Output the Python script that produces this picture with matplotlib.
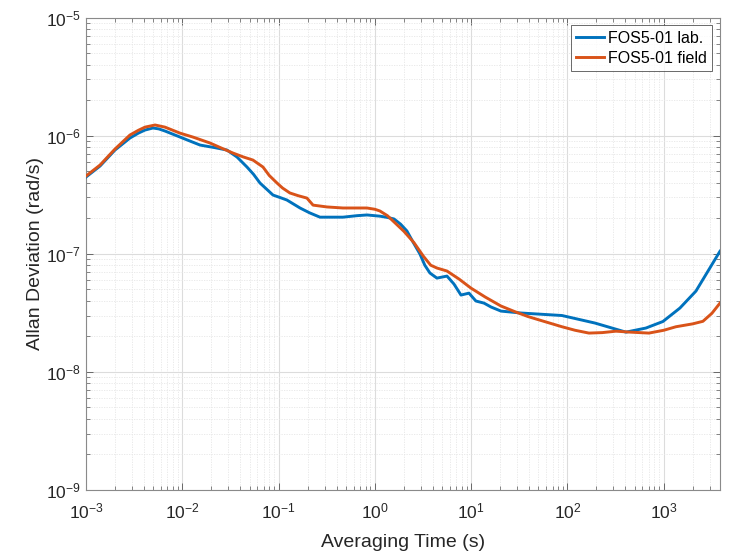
import matplotlib
matplotlib.use("Agg")
import matplotlib.pyplot as plt
from matplotlib.ticker import LogFormatterSciNotation

plt.rcParams['font.family'] = ['Liberation Sans', 'DejaVu Sans']
plt.rcParams['mathtext.fontset'] = 'custom'
plt.rcParams['mathtext.rm'] = 'Liberation Sans'
plt.rcParams['mathtext.it'] = 'Liberation Sans:italic'
plt.rcParams['mathtext.bf'] = 'Liberation Sans:bold'

# ---- data ----
tau_lab = [1.0e-3, 1.40e-3, 2.0e-3, 2.86e-3, 3.5e-3, 4.10e-3, 4.96e-3, 5.7e-3, 6.61e-3,
           9.46e-3, 1.2e-2, 1.53e-2, 2.2e-2, 2.91e-2, 3.70e-2, 4.70e-2, 5.5e-2, 6.41e-2,
           8.75e-2, 0.105, 0.122, 0.167, 0.21, 0.269, 0.466, 0.65, 0.828, 1.13, 1.35,
           1.58, 1.85, 2.15, 2.5, 2.94, 3.3, 3.73, 4.41, 5.61, 6.63, 7.84, 9.49, 11.2,
           13.6, 16.1, 20.4, 32.9, 87.7, 193, 405, 653, 981, 1473, 2160, 3837]
adev_lab = [4.46e-7, 5.53e-7, 7.55e-7, 9.54e-7, 1.05e-6, 1.115e-6, 1.16e-6, 1.14e-6,
            1.094e-6, 9.73e-7, 9.0e-7, 8.32e-7, 7.9e-7, 7.55e-7, 6.59e-7, 5.42e-7,
            4.7e-7, 3.97e-7, 3.14e-7, 2.98e-7, 2.85e-7, 2.44e-7, 2.22e-7, 2.04e-7,
            2.04e-7, 2.1e-7, 2.13e-7, 2.08e-7, 2.03e-7, 1.97e-7, 1.78e-7, 1.56e-7,
            1.25e-7, 9.94e-8, 8.0e-8, 6.87e-8, 6.22e-8, 6.47e-8, 5.54e-8, 4.47e-8,
            4.64e-8, 3.98e-8, 3.82e-8, 3.54e-8, 3.27e-8, 3.15e-8, 3.00e-8, 2.59e-8,
            2.17e-8, 2.35e-8, 2.67e-8, 3.47e-8, 4.83e-8, 1.05e-7]

tau_field = [1.0e-3, 1.40e-3, 2.0e-3, 2.86e-3, 3.5e-3, 4.10e-3, 5.21e-3, 6.61e-3,
             9.46e-3, 1.3e-2, 1.94e-2, 2.5e-2, 3.36e-2, 4.3e-2, 5.42e-2, 6.89e-2, 8.0e-2,
             9.63e-2, 0.11, 0.131, 0.16, 0.197, 0.228, 0.318, 0.466, 0.828, 1.0, 1.13,
             1.35, 1.58, 2.0, 2.55, 3.2, 3.8, 4.41, 5.61, 7.5, 9.95, 14, 20.4, 28, 38.9,
             55, 87.7, 120, 167, 230, 319, 450, 702, 1000, 1339, 2000, 2553, 3162, 3837]
adev_field = [4.55e-7, 5.64e-7, 7.70e-7, 1.012e-6, 1.11e-6, 1.18e-6, 1.23e-6, 1.18e-6,
              1.05e-6, 9.7e-7, 8.66e-7, 7.9e-7, 7.12e-7, 6.6e-7, 6.21e-7, 5.42e-7,
              4.6e-7, 3.97e-7, 3.6e-7, 3.27e-7, 3.1e-7, 2.96e-7, 2.58e-7, 2.49e-7,
              2.44e-7, 2.44e-7, 2.38e-7, 2.30e-7, 2.1e-7, 1.86e-7, 1.55e-7, 1.24e-7,
              9.5e-8, 8.0e-8, 7.57e-8, 7.14e-8, 6.1e-8, 5.12e-8, 4.3e-8, 3.61e-8,
              3.25e-8, 2.94e-8, 2.7e-8, 2.41e-8, 2.25e-8, 2.13e-8, 2.15e-8, 2.21e-8,
              2.17e-8, 2.13e-8, 2.25e-8, 2.41e-8, 2.55e-8, 2.68e-8, 3.13e-8, 3.82e-8]

x_exponents = [-3, -2, -1, 0, 1, 2, 3]
y_exponents = [-9, -8, -7, -6, -5]
xlim = (1e-3, 3.84e3)
ylim = (1e-9, 1e-5)

series_labels = ['FOS5-01 lab.', 'FOS5-01 field']
x_label = 'Averaging Time (s)'
y_label = 'Allan Deviation (rad/s)'

# ---- figure ----
fig = plt.figure(figsize=(7.36, 5.56), dpi=100)
ax = fig.add_axes([86/736, 1-490/556, (720-86)/736, (490-17.5)/556])

blue = '#0072BD'
orange = '#D95319'
ax.loglog(tau_lab, adev_lab, color=blue, lw=2.1, label=series_labels[0], zorder=3,
          solid_joinstyle='round')
ax.loglog(tau_field, adev_field, color=orange, lw=2.1, label=series_labels[1], zorder=3,
          solid_joinstyle='round')

ax.set_xlim(*xlim)
ax.set_ylim(*ylim)

xmaj = [10.0 ** e for e in x_exponents]
ymaj = [10.0 ** e for e in y_exponents]
xmin_t = [m * 10.0 ** e for e in range(-3, 4) for m in range(2, 10)
          if m * 10.0 ** e <= xlim[1]]
ymin_t = [m * 10.0 ** e for e in range(-9, -5) for m in range(2, 10)]
ax.set_xticks(xmaj)
ax.set_yticks(ymaj)
ax.set_xticks(xmin_t, minor=True)
ax.set_yticks(ymin_t, minor=True)
ax.xaxis.set_major_formatter(LogFormatterSciNotation())
ax.yaxis.set_major_formatter(LogFormatterSciNotation())
ax.set_xticklabels([], minor=True)
ax.set_yticklabels([], minor=True)
ax.set_xlim(*xlim)
ax.set_ylim(*ylim)

ax.grid(True, which='major', color='#dcdcdc', lw=0.8, ls='-', zorder=0)
ax.grid(True, which='minor', color='#e6e6e6', lw=0.6, ls=(0, (1.5, 1.5)), zorder=0)

tc = '#262626'
ax.tick_params(which='both', direction='in', top=True, right=True, colors='#555555',
               labelcolor=tc)
ax.tick_params(which='major', length=5, width=0.6, labelsize=12.5)
ax.tick_params(axis='x', which='major', pad=8)
ax.tick_params(axis='y', which='major', pad=4)
ax.tick_params(which='minor', length=2.8, width=0.5)
for s in ax.spines.values():
    s.set_color('#8a8a8a')
    s.set_linewidth(0.8)

ax.set_xlabel(x_label, fontsize=14, color=tc)
ax.set_ylabel(y_label, fontsize=14, color=tc)
ax.xaxis.set_label_coords(0.5, -0.094)
ax.yaxis.set_label_coords(-0.080, 0.5)
ax.yaxis.label.set_va('center')

leg = ax.legend(loc='upper right', fontsize=11.5, frameon=True, fancybox=False,
                edgecolor='#262626', handlelength=1.75, handletextpad=0.2,
                borderpad=0.35, labelspacing=0.3, borderaxespad=0.5)
leg.get_frame().set_linewidth(0.6)
for t in leg.get_texts():
    t.set_color('#000000')

fig.savefig('out.png', dpi=100, facecolor='white')
